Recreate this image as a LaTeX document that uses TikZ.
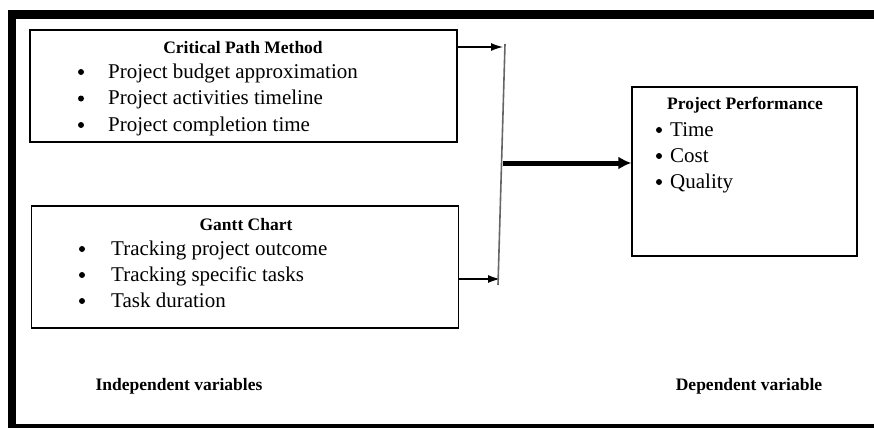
\documentclass[tikz,border=0pt]{standalone}
\usepackage{fontspec}
\setmainfont{Liberation Serif}
\usepackage{tikz}
\usetikzlibrary{arrows.meta,backgrounds}
\tikzstyle{varbox}	=[draw=black,line width=1.2pt,inner sep=0pt]
\tikzstyle{head}	=[font=\fontsize{17.5}{20}\selectfont\bfseries,anchor=base,inner sep=0pt]
\tikzstyle{item}	=[font=\fontsize{21}{24}\selectfont,anchor=base west,inner sep=0pt]
\tikzstyle{dot}		=[circle,fill=black,minimum size=6pt,inner sep=0pt]
\tikzstyle{edgein} 	= [draw,line width=1.3pt,-{Latex[length=12pt,width=8pt]}]
\tikzstyle{edgeout} 	= [draw,line width=5pt,-{Latex[length=13pt,width=13pt]}]
\tikzstyle{bar} 	= [draw,gray!80!black,line width=1.6pt]
\tikzstyle{frame} 	= [draw,black]
\begin{document}
\begin{tikzpicture}[x=1pt,y=-1pt]
	\useasboundingbox (0,0) rectangle (874,428);
	
	%%%%% outer frame
	\path[frame,line width=9pt] (8,14.5) -- (874,14.5);
	\path[frame,line width=8pt] (12,10) -- (12,428);
	\path[frame,line width=4pt] (8,426) -- (874,426);
	
	%%%%% boxes
	\node[varbox,minimum width=427pt,minimum height=112pt] (cpm) at (243.5,86) {};
	\node[varbox,minimum width=427pt,minimum height=122pt] (gantt) at (245,267) {};
	\node[varbox,minimum width=225pt,minimum height=169pt] (perf) at (744.5,171.5) {};
	
	%%%%% Independent variables
	\node[head] (cpmhead) at (243,53) {Critical Path Method};
	\foreach \y/\name/\txt in {78/cpm1/Project budget approximation, 104.5/cpm2/Project activities timeline, 131/cpm3/Project completion time}
	{\node[dot] (\name b) at (81,\y-6) {}; \node[item] (\name) at (108,\y) {\txt};}
	
	\node[head] (gantthead) at (246,230) {Gantt Chart};
	\foreach \y/\name/\txt in {255/gantt1/Tracking project outcome, 281/gantt2/Tracking specific tasks, 307/gantt3/Task duration}
	{\node[dot] (\name b) at (82,\y-6) {}; \node[item] (\name) at (111,\y) {\txt};}
	
	%%%%% Dependent variable
	\node[head] (perfhead) at (745,109) {Project Performance};
	\foreach \y/\name/\txt in {136/perf1/Time, 162/perf2/Cost, 188/perf3/Quality}
	{\node[dot] (\name b) at (659,\y-6) {}; \node[item] (\name) at (670,\y) {\txt};}
	
	%%%%% captions
	\node[head] (indep) at (179,390) {Independent variables};
	\node[head] (dep) at (749,390) {Dependent variable};
	
	%%%%% connectors
	\coordinate (bartop) at (505,44);
	\coordinate (barbot) at (498,285);
	\coordinate (tipcpm) at (503,47);
	\coordinate (tipgantt) at (500,279);
	\coordinate (barmid) at (503,163);
	\path[edgein] (cpm.east |- tipcpm) -- (tipcpm);
	\path[edgein] (gantt.east |- tipgantt) -- (tipgantt);
	\path[bar] (bartop) -- (barbot);
	\path[edgeout] (barmid) -- (perf.west |- barmid);
\end{tikzpicture}
\end{document}
